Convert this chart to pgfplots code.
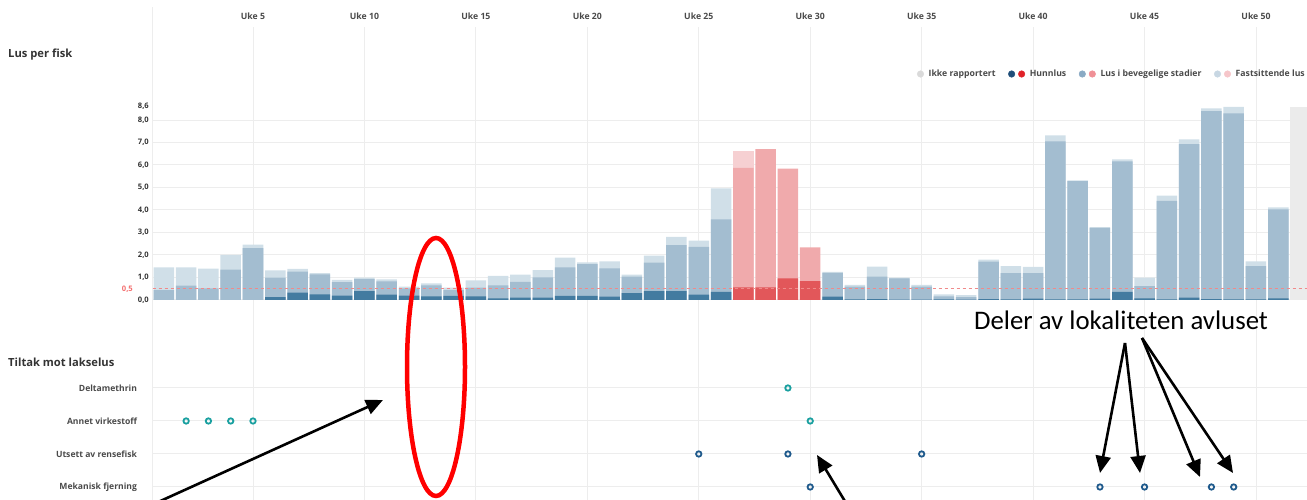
\documentclass[border=0pt]{standalone}
\usepackage{fontspec}
\setmainfont{Open Sans}
\newfontfamily\calibri{Carlito}
\usepackage{pgfplots}
\pgfplotsset{compat=1.18}
\usetikzlibrary{arrows.meta}
\definecolor{bdark}{HTML}{437BA0}
\definecolor{bmed}{HTML}{A3BDD0}
\definecolor{blight}{HTML}{D0DFE8}
\definecolor{rdark}{HTML}{E2575A}
\definecolor{rmed}{HTML}{F0AAAC}
\definecolor{rlight}{HTML}{F6D0D2}
\definecolor{greyc}{HTML}{EBEBEB}
\definecolor{lgrey}{HTML}{DADADA}
\definecolor{lnavy}{HTML}{1F4E79}
\definecolor{lred}{HTML}{E02228}
\definecolor{lbmed}{HTML}{8AAAC4}
\definecolor{lrmed}{HTML}{F09096}
\definecolor{lblight}{HTML}{C8D7E3}
\definecolor{lrlight}{HTML}{F6C6CA}
\definecolor{tealc}{HTML}{1AA0A0}
\definecolor{navyc}{HTML}{1F5A8C}
\definecolor{gridc}{HTML}{EDEDED}
\definecolor{txt}{HTML}{333333}
\definecolor{txtl}{HTML}{4A4A4A}
\definecolor{dashc}{HTML}{F08A8A}
\begin{document}
\begin{tikzpicture}
\useasboundingbox (0,0) rectangle (1307pt,500pt);
% background axis with week grid
\begin{axis}[at={(152.7pt,0pt)}, anchor=south west, scale only axis,
  width=1154.3pt, height=473pt, xmin=0.5, xmax=52.29, ymin=0, ymax=1,
  axis line style={draw=none}, ytick=\empty, xtick={5,10,...,50},
  xticklabels={Uke 5,Uke 10,Uke 15,Uke 20,Uke 25,Uke 30,Uke 35,Uke 40,Uke 45,Uke 50},
  xticklabel pos=upper, major tick length=0pt,
  xmajorgrids, grid style={gridc, line width=0.8pt},
  xticklabel style={font=\bfseries\fontsize{8.7}{10}\selectfont, text=txtl, anchor=base, inner sep=0pt},
  xticklabel shift=7pt]
\end{axis}
\draw[gridc, line width=0.8pt] (152.7pt,493pt) -- (152.7pt,0pt);
% bars axis
\begin{axis}[at={(152.7pt,200pt)}, anchor=south west, scale only axis,
  width=1154.3pt, height=193.5pt, xmin=0.5, xmax=52.29, ymin=0, ymax=8.6,
  axis line style={draw=none}, xtick=\empty,
  ytick={0,1,2,3,4,5,6,7,8},
  yticklabels={0{,}0,1{,}0,2{,}0,3{,}0,4{,}0,5{,}0,6{,}0,7{,}0,8{,}0},
  extra y ticks={8.6}, extra y tick labels={8{,}6}, extra y tick style={grid=none},
  major tick length=0pt,
  ymajorgrids, grid style={gridc, line width=1pt},
  yticklabel style={font=\bfseries\fontsize{7.6}{9}\selectfont, text=txt, anchor=east, inner sep=0pt},
  yticklabel shift=3.7pt,
  legend style={at={(1,1)}, anchor=east, yshift=32.5pt, draw=none, fill=none,
    font=\bfseries\fontsize{8.7}{10}\selectfont, text=txtl, inner sep=0pt,
    /tikz/every odd column/.append style={column sep=2.7pt},
    /tikz/every even column/.append style={column sep=10.5pt}},
  legend columns=-1]
\addlegendimage{legend image code/.code={\fill[lgrey] (0pt,0pt) circle (3.3pt);}}
\addlegendentry{Ikke rapportert}
\addlegendimage{legend image code/.code={\fill[lnavy] (0pt,0pt) circle (3.3pt); \fill[lred] (10pt,0pt) circle (3.3pt);}}
\addlegendentry{Hunnlus}
\addlegendimage{legend image code/.code={\fill[lbmed] (0pt,0pt) circle (3.3pt); \fill[lrmed] (10pt,0pt) circle (3.3pt);}}
\addlegendentry{Lus i bevegelige stadier}
\addlegendimage{legend image code/.code={\fill[lblight] (0pt,0pt) circle (3.3pt); \fill[lrlight] (10pt,0pt) circle (3.3pt);}}
\addlegendentry{Fastsittende lus}
% blue light (total)
\addplot[ybar, bar width=0.92, bar shift=0pt, fill=blight, draw=none, forget plot] coordinates {
(1,1.45)(2,1.45)(3,1.39)(4,2.01)(5,2.46)(6,1.32)(7,1.38)(8,1.19)(9,0.89)(10,0.99)
(11,0.92)(12,0.59)(13,0.74)(14,0.55)(15,0.87)(16,1.07)(17,1.13)(18,1.33)(19,1.88)(20,1.67)
(21,1.72)(22,1.13)(23,1.97)(24,2.81)(25,2.64)(26,4.96)
(31,1.25)(32,0.67)(33,1.48)(34,0.99)(35,0.67)(36,0.25)(37,0.22)(38,1.79)(39,1.50)(40,1.47)
(41,7.32)(42,5.32)(43,3.24)(44,6.25)(45,0.99)(46,4.64)(47,7.14)(48,8.52)(49,8.58)(50,1.72)(51,4.12)};
% blue medium
\addplot[ybar, bar width=0.92, bar shift=0pt, fill=bmed, draw=none, forget plot] coordinates {
(1,0.44)(2,0.64)(3,0.52)(4,1.35)(5,2.30)(6,0.99)(7,1.26)(8,1.14)(9,0.79)(10,0.93)
(11,0.83)(12,0.52)(13,0.65)(14,0.44)(15,0.55)(16,0.65)(17,0.81)(18,1.01)(19,1.45)(20,1.59)
(21,1.41)(22,1.04)(23,1.66)(24,2.44)(25,2.36)(26,3.58)
(31,1.20)(32,0.59)(33,1.04)(34,0.96)(35,0.59)(36,0.16)(37,0.13)(38,1.70)(39,1.19)(40,1.19)
(41,7.05)(42,5.28)(43,3.20)(44,6.16)(45,0.62)(46,4.40)(47,6.93)(48,8.40)(49,8.30)(50,1.50)(51,4.03)};
% blue dark (Hunnlus)
\addplot[ybar, bar width=0.92, bar shift=0pt, fill=bdark, draw=none, forget plot] coordinates {
(6,0.13)(7,0.33)(8,0.25)(9,0.19)(10,0.39)
(11,0.24)(12,0.19)(13,0.16)(14,0.18)(15,0.16)(16,0.07)(17,0.10)(18,0.10)(19,0.18)(20,0.18)
(21,0.15)(22,0.31)(23,0.39)(24,0.39)(25,0.24)(26,0.36)
(31,0.15)(32,0.03)(33,0.04)(34,0.02)(35,0.02)(36,0.03)(37,0.02)(38,0.04)(39,0.03)(40,0.06)
(41,0.03)(42,0.03)(43,0.06)(44,0.36)(45,0.07)(46,0.03)(47,0.10)(48,0.04)(49,0.03)(50,0.03)(51,0.07)};
% red series
\addplot[ybar, bar width=0.92, bar shift=0pt, fill=rlight, draw=none, forget plot] coordinates {(27,6.61)};
\addplot[ybar, bar width=0.92, bar shift=0pt, fill=rmed, draw=none, forget plot] coordinates {(27,5.87)(28,6.71)(29,5.84)(30,2.34)};
\addplot[ybar, bar width=0.92, bar shift=0pt, fill=rdark, draw=none, forget plot] coordinates {(27,0.56)(28,0.56)(29,0.96)(30,0.84)};
% not reported
\addplot[ybar, bar width=0.92, bar shift=0pt, fill=greyc, draw=none, forget plot] coordinates {(52,8.6)};
% threshold line
\addplot[dashc, dashed, line width=1pt, forget plot] coordinates {(0.5,0.5)(52.29,0.5)};
\end{axis}
\node[anchor=east, inner sep=0pt, font=\bfseries\fontsize{7.6}{9}\selectfont, text=dashc!80!red] at (133pt,211.25pt) {0,5};
% treatments axis
\begin{axis}[at={(152.7pt,0.46pt)}, anchor=south west, scale only axis,
  width=1154.3pt, height=124.74pt, xmin=0.5, xmax=52.29, ymin=0.62, ymax=4.4,
  axis line style={draw=none}, xtick=\empty, ytick={1,2,3,4},
  yticklabels={Mekanisk fjerning,Utsett av rensefisk,Annet virkestoff,Deltamethrin},
  ymajorgrids, grid style={gridc, line width=1pt}, major tick length=0pt,
  yticklabel style={font=\bfseries\fontsize{8.6}{10}\selectfont, text=txtl, anchor=east, inner sep=0pt},
  yticklabel shift=15.5pt, clip=false]
\addplot[only marks, mark=o, mark size=2.7pt, tealc, line width=1.8pt] coordinates {(2,3)(3,3)(4,3)(5,3)(30,3)(29,4)};
\addplot[only marks, mark=o, mark size=2.7pt, navyc, line width=1.8pt] coordinates {(25,2)(29,2)(35,2)(30,1)(43,1)(45,1)(48,1)(49,1)};
\end{axis}
% titles
\node[anchor=west, inner sep=0pt, font=\bfseries\fontsize{11.2}{13}\selectfont, text=txt] at (8pt,445pt) {Lus per fisk};
\node[anchor=west, inner sep=0pt, font=\bfseries\fontsize{11.2}{13}\selectfont, text=txt] at (8pt,138pt) {Tiltak mot lakselus};
% annotations
\draw[red, line width=4.5pt] (436pt,133pt) ellipse [x radius=29pt, y radius=129pt];
\draw[line width=2.6pt, -{Triangle[length=17pt,width=15pt]}] (156pt,-3pt) -- (383pt,100pt);
\draw[line width=2.6pt, -{Triangle[length=17pt,width=15pt]}] (846pt,-3pt) -- (817pt,45pt);
\node[font=\calibri\fontsize{26.8}{32}\selectfont, inner sep=0pt] at (1121pt,180pt) {Deler av lokaliteten avluset};
\draw[line width=2.6pt, -{Triangle[length=17pt,width=15pt]}] (1125pt,157pt) -- (1100pt,27pt);
\draw[line width=2.6pt, -{Triangle[length=17pt,width=15pt]}] (1125pt,157pt) -- (1140pt,27pt);
\draw[line width=2.6pt, -{Triangle[length=17pt,width=15pt]}] (1142pt,162pt) -- (1200pt,23pt);
\draw[line width=2.6pt, -{Triangle[length=17pt,width=15pt]}] (1142pt,162pt) -- (1233pt,27pt);
\end{tikzpicture}
\end{document}
